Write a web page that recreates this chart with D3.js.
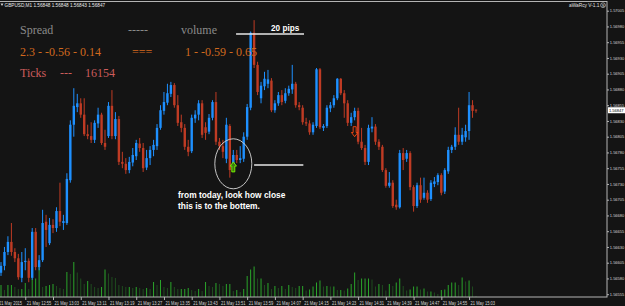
<!DOCTYPE html>
<html>
<head>
<meta charset="utf-8">
<script src="https://d3js.org/d3.v7.min.js"></script>
<style>
  body { margin: 0; background: #141414; }
  svg { display: block; }
</style>
</head>
<body>
<div id="chart"></div>
<script>
// GBPUSD M1, 21 May 2015, one candle per minute starting 12:48
var opens = [1.56589,1.56600,1.56622,1.56638,1.56622,1.56612,1.56581,1.56606,1.56608,1.56581,
  1.56654,1.56598,1.56609,1.56670,1.56636,1.56665,1.56660,1.56687,1.56668,1.56668,
  1.56736,1.56824,1.56852,1.56858,1.56840,1.56809,1.56806,1.56800,1.56826,1.56840,
  1.56795,1.56806,1.56854,1.56806,1.56833,1.56765,1.56762,1.56752,1.56764,1.56774,
  1.56794,1.56787,1.56756,1.56771,1.56784,1.56790,1.56819,1.56846,1.56859,1.56873,
  1.56887,1.56855,1.56828,1.56819,1.56789,1.56782,1.56834,1.56840,1.56858,1.56820,
  1.56813,1.56835,1.56860,1.56797,1.56790,1.56770,1.56822,1.56756,1.56776,1.56768,
  1.56770,1.56805,1.56851,1.56970,1.56919,1.56866,1.56885,1.56889,1.56894,1.56847,
  1.56858,1.56871,1.56862,1.56874,1.56880,1.56889,1.56855,1.56851,1.56828,1.56826,
  1.56812,1.56822,1.56912,1.56819,1.56822,1.56850,1.56855,1.56866,1.56897,1.56874,
  1.56858,1.56827,1.56836,1.56846,1.56797,1.56787,1.56765,1.56818,1.56821,1.56797,
  1.56789,1.56752,1.56727,1.56732,1.56697,1.56693,1.56779,1.56770,1.56779,1.56725,
  1.56695,1.56728,1.56708,1.56716,1.56706,1.56730,1.56733,1.56744,1.56718,1.56750,
  1.56784,1.56789,1.56808,1.56797,1.56804,1.56814,1.56855,1.56848];
var highs = [1.56606,1.56630,1.56647,1.56668,1.56628,1.56619,1.56622,1.56628,1.56612,1.56660,
  1.56660,1.56617,1.56689,1.56681,1.56676,1.56674,1.56693,1.56732,1.56681,1.56747,
  1.56831,1.56882,1.56873,1.56866,1.56866,1.56824,1.56828,1.56831,1.56851,1.56843,
  1.56816,1.56860,1.56879,1.56844,1.56838,1.56781,1.56771,1.56773,1.56787,1.56800,
  1.56803,1.56795,1.56784,1.56790,1.56800,1.56825,1.56855,1.56876,1.56889,1.56892,
  1.56890,1.56871,1.56840,1.56825,1.56800,1.56840,1.56847,1.56863,1.56863,1.56828,
  1.56841,1.56863,1.56876,1.56803,1.56800,1.56835,1.56825,1.56784,1.56784,1.56790,
  1.56812,1.56857,1.56972,1.56990,1.56924,1.56892,1.56908,1.56911,1.56898,1.56863,
  1.56876,1.56879,1.56882,1.56886,1.56919,1.56892,1.56860,1.56855,1.56835,1.56831,
  1.56828,1.56914,1.56914,1.56825,1.56855,1.56860,1.56871,1.56898,1.56898,1.56879,
  1.56863,1.56843,1.56851,1.56851,1.56819,1.56792,1.56824,1.56836,1.56825,1.56801,
  1.56792,1.56755,1.56749,1.56736,1.56705,1.56784,1.56787,1.56784,1.56782,1.56728,
  1.56732,1.56740,1.56740,1.56720,1.56736,1.56741,1.56747,1.56747,1.56755,1.56789,
  1.56792,1.56820,1.56851,1.56819,1.56824,1.56876,1.56863,1.56848];
var lows = [1.56584,1.56593,1.56617,1.56616,1.56606,1.56578,1.56574,1.56593,1.56574,1.56578,
  1.56593,1.56593,1.56606,1.56630,1.56633,1.56652,1.56654,1.56663,1.56657,1.56665,
  1.56732,1.56805,1.56844,1.56835,1.56806,1.56801,1.56795,1.56795,1.56819,1.56792,
  1.56784,1.56803,1.56801,1.56801,1.56760,1.56755,1.56746,1.56747,1.56758,1.56768,
  1.56781,1.56749,1.56752,1.56760,1.56774,1.56784,1.56816,1.56840,1.56855,1.56868,
  1.56851,1.56822,1.56812,1.56784,1.56774,1.56779,1.56827,1.56831,1.56803,1.56800,
  1.56809,1.56831,1.56792,1.56784,1.56771,1.56763,1.56740,1.56750,1.56763,1.56763,
  1.56765,1.56800,1.56847,1.56914,1.56871,1.56858,1.56879,1.56882,1.56844,1.56843,
  1.56854,1.56855,1.56858,1.56870,1.56873,1.56851,1.56847,1.56824,1.56822,1.56808,
  1.56808,1.56819,1.56817,1.56814,1.56819,1.56844,1.56851,1.56863,1.56871,1.56835,
  1.56822,1.56822,1.56831,1.56793,1.56784,1.56760,1.56760,1.56812,1.56792,1.56784,
  1.56749,1.56724,1.56724,1.56692,1.56689,1.56691,1.56752,1.56765,1.56720,1.56686,
  1.56692,1.56700,1.56705,1.56700,1.56703,1.56725,1.56728,1.56712,1.56714,1.56746,
  1.56779,1.56784,1.56792,1.56792,1.56797,1.56800,1.56835,1.56843];
var closes = [1.56600,1.56622,1.56638,1.56622,1.56612,1.56582,1.56606,1.56608,1.56581,1.56654,
  1.56598,1.56609,1.56668,1.56657,1.56665,1.56660,1.56687,1.56670,1.56671,1.56738,
  1.56824,1.56854,1.56858,1.56840,1.56809,1.56806,1.56800,1.56827,1.56840,1.56795,
  1.56789,1.56854,1.56806,1.56833,1.56765,1.56762,1.56752,1.56765,1.56776,1.56795,
  1.56787,1.56755,1.56771,1.56784,1.56792,1.56819,1.56847,1.56860,1.56874,1.56887,
  1.56855,1.56827,1.56819,1.56789,1.56781,1.56835,1.56840,1.56858,1.56808,1.56811,
  1.56835,1.56860,1.56797,1.56790,1.56781,1.56824,1.56752,1.56776,1.56768,1.56771,
  1.56805,1.56852,1.56970,1.56919,1.56876,1.56886,1.56897,1.56896,1.56847,1.56858,
  1.56871,1.56860,1.56874,1.56881,1.56889,1.56855,1.56852,1.56828,1.56826,1.56812,
  1.56824,1.56912,1.56820,1.56822,1.56851,1.56855,1.56866,1.56897,1.56874,1.56858,
  1.56827,1.56836,1.56846,1.56797,1.56787,1.56765,1.56819,1.56821,1.56797,1.56789,
  1.56752,1.56727,1.56732,1.56695,1.56693,1.56779,1.56768,1.56779,1.56725,1.56695,
  1.56728,1.56705,1.56716,1.56705,1.56732,1.56734,1.56744,1.56716,1.56752,1.56784,
  1.56789,1.56808,1.56797,1.56808,1.56814,1.56855,1.56846,1.56847];
var volumes = [24,14,24,24,20,16,16,28,16,37, 37,60,20,22,24,26,22,18,16,50,
  46,70,49,37,26,32,26,20,18,20, 55,47,40,38,24,22,20,20,18,20,
  18,16,18,16,30,24,34,20,18,30, 20,16,16,16,18,14,12,16,12,30,
  22,20,28,26,22,26,26,12,14,10, 16,42,55,61,37,37,24,28,16,22,
  18,22,16,24,20,18,22,22,13,15, 21,29,33,21,22,21,21,14,14,13,
  17,26,49,34,37,37,37,35,21,26, 24,13,26,22,29,37,22,13,15,21,
  21,15,17,11,11,9,6,14,15,24, 29,29,24,39,31,33,21,2];

var priceTicks = [1.57005,1.56980,1.56955,1.56930,1.56905,1.56880,1.56855,1.56830,1.56805,
  1.56780,1.56755,1.56730,1.56705,1.56680,1.56655,1.56630,1.56605,1.56580,1.56555];
var timeTicks = ["12:47","12:55","13:03","13:11","13:19","13:27","13:35","13:43","13:51",
  "13:59","14:07","14:15","14:23","14:31","14:39","14:47","14:55","15:03"];
var timeLabels = ["21 May 2015","21 May 12:55","21 May 13:03","21 May 13:11","21 May 13:19",
  "21 May 13:27","21 May 13:35","21 May 13:43","21 May 13:51","21 May 13:59","21 May 14:07",
  "21 May 14:15","21 May 14:23","21 May 14:31","21 May 14:39","21 May 14:47","21 May 14:55","21 May 15:03"];

var width = 625, height = 306;
var plotRight = 607, plotBottom = 297;
var upColor = "#1e90ff", downColor = "#bf3b24";
var smallFont = "4.6px 'Liberation Sans', Arial, sans-serif";
var priceFont = "4px 'Liberation Sans', Arial, sans-serif";

var svg = d3.select("#chart").append("svg")
    .attr("width", width)
    .attr("height", height);

svg.append("rect").attr("width", width).attr("height", height).attr("fill", "#141414");

var parseTime = d3.timeParse("%Y-%m-%d %H:%M");
var startTime = parseTime("2015-05-21 12:48");
function atBar(i) { return new Date(+startTime + i * 60000); }

var x = d3.scaleTime()
    .domain([startTime, atBar(opens.length - 1)])
    .range([1, 476]);
var y = d3.scaleLinear()
    .domain([1.56555, 1.57005])
    .range([294.2, 10.7]);
var yVol = d3.scaleLinear()
    .domain([0, 70])
    .range([plotBottom, 262]);

var bars = opens.map(function (o, i) {
    return {t: atBar(i), o: o, h: highs[i], l: lows[i], c: closes[i], v: volumes[i],
            vUp: i === 0 || volumes[i] >= volumes[i - 1]};
});

// volumes
svg.append("g").selectAll("line")
    .data(bars)
    .enter().append("line")
        .attr("x1", function (d) { return x(d.t); })
        .attr("x2", function (d) { return x(d.t); })
        .attr("y1", yVol(0))
        .attr("y2", function (d) { return yVol(d.v); })
        .attr("stroke", function (d) { return d.vUp ? "#2aa52a" : "#1f4d1f"; })
        .attr("stroke-width", 1);

// candles
var candle = svg.append("g").selectAll("g")
    .data(bars)
    .enter().append("g");
candle.append("line")
    .attr("x1", function (d) { return x(d.t); })
    .attr("x2", function (d) { return x(d.t); })
    .attr("y1", function (d) { return y(d.h); })
    .attr("y2", function (d) { return y(d.l); })
    .attr("stroke", function (d) { return d.c >= d.o ? upColor : downColor; })
    .attr("stroke-width", 1);
candle.append("rect")
    .attr("x", function (d) { return x(d.t) - 1.2; })
    .attr("width", 2.4)
    .attr("y", function (d) { return y(Math.max(d.o, d.c)); })
    .attr("height", function (d) { return Math.max(1, Math.abs(y(d.o) - y(d.c))); })
    .attr("fill", function (d) { return d.c >= d.o ? upColor : downColor; });

// frame
svg.append("rect")
    .attr("x", -1).attr("y", 1.5)
    .attr("width", plotRight + 1).attr("height", plotBottom - 1.5)
    .attr("fill", "none").attr("stroke", "#b4b4b4").attr("stroke-width", 1);

// price axis
var yAxis = svg.append("g")
    .attr("transform", "translate(" + plotRight + ",0)")
    .call(d3.axisRight(y).tickValues(priceTicks).tickFormat(d3.format(".5f")).tickSize(2).tickPadding(0.8));
yAxis.select(".domain").remove();
yAxis.selectAll("line").attr("stroke", "#b4b4b4");
yAxis.selectAll("text")
    .attr("fill", "#d4d4d4")
    .style("font", priceFont);

// current price tag
var last = bars[bars.length - 1];
svg.append("rect")
    .attr("x", plotRight + 1).attr("y", y(last.c) - 3)
    .attr("width", 17).attr("height", 6)
    .attr("fill", "#ffffff");
svg.append("text")
    .attr("x", plotRight + 2).attr("y", y(last.c) + 1.4)
    .attr("fill", "#000")
    .style("font", priceFont)
    .text(d3.format(".5f")(last.c));

// time axis
var xAxis = svg.append("g")
    .attr("transform", "translate(0," + plotBottom + ")")
    .call(d3.axisBottom(x)
        .tickValues(timeTicks.map(function (t) { return parseTime("2015-05-21 " + t); }))
        .tickFormat(function (d, i) { return timeLabels[i]; })
        .tickSize(3).tickPadding(1.5));
xAxis.select(".domain").remove();
xAxis.selectAll("line").attr("stroke", "#b4b4b4");
xAxis.selectAll("text")
    .attr("text-anchor", "start").attr("x", 1)
    .attr("fill", "#d4d4d4")
    .attr("textLength", function (d, i) { return i === 0 ? 23 : 24.5; })
    .attr("lengthAdjust", "spacingAndGlyphs")
    .style("font", smallFont);

// header texts
svg.append("path")
    .attr("d", "M0.5,3.5 L3.5,3.5 L2,6 Z")
    .attr("fill", "#d0d0d0");
svg.append("text")
    .attr("x", 4.5).attr("y", 6.6)
    .attr("fill", "#e8e8e8")
    .style("font", "4.7px 'Liberation Sans', Arial, sans-serif")
    .text("GBPUSD,M1  1.56848 1.56848 1.56843 1.56847");
svg.append("text")
    .attr("x", 599.5).attr("y", 6.8)
    .attr("text-anchor", "end")
    .attr("fill", "#e0e0e0")
    .style("font", "4.8px 'Liberation Sans', Arial, sans-serif")
    .text("aWaRcy V-1.1");
svg.append("circle").attr("cx", 603).attr("cy", 5.2).attr("r", 2.4)
    .attr("fill", "none").attr("stroke", "#e0e0e0").attr("stroke-width", 0.6);
svg.append("text")
    .attr("x", 603).attr("y", 6.8).attr("text-anchor", "middle")
    .attr("fill", "#e0e0e0")
    .style("font", "4px 'Liberation Sans', Arial, sans-serif")
    .text("S");

// info panel (serif labels)
var serif = "12px 'Liberation Serif', 'Times New Roman', serif";
function info(tx, ty, txt, col) {
    svg.append("text").attr("x", tx).attr("y", ty).attr("fill", col)
        .style("font", serif).text(txt);
}
info(20, 34, "Spread", "#8a8a8a");
info(128, 34, "-----", "#8a8a8a");
info(181, 34, "volume", "#8a8a8a");
info(20, 55.5, "2.3 - -0.56 - 0.14", "#d2691e");
info(132, 55.5, "===", "#d2691e");
info(185, 55.5, "1 - -0.59 - 0.65", "#d2691e");
info(20, 76.5, "Ticks", "#cd5c5c");
info(60, 76.5, "---", "#cd5c5c");
info(85, 76.5, "16154", "#cd5c5c");

// 20 pips ruler
var pipLines = [
    {from: 67.8, to: 87.4, price: 1.56968},
    {from: 73.0, to: 87.2, price: 1.56760}
];
svg.append("g").selectAll("line")
    .data(pipLines)
    .enter().append("line")
        .attr("x1", function (d) { return x(atBar(d.from)); })
        .attr("x2", function (d) { return x(atBar(d.to)); })
        .attr("y1", function (d) { return y(d.price); })
        .attr("y2", function (d) { return y(d.price); })
        .attr("stroke", "#e6e6e6")
        .attr("stroke-width", 1.4);
svg.append("text")
    .attr("x", 271).attr("y", 31)
    .attr("fill", "#ffffff")
    .style("font", "bold 8.2px 'Liberation Sans', Arial, sans-serif")
    .text("20 pips");

// circle + arrows marking the low
svg.append("ellipse")
    .attr("cx", x(atBar(67))).attr("cy", y(1.56762))
    .attr("rx", 18.5).attr("ry", 25)
    .attr("fill", "none").attr("stroke", "#d8d8d8").attr("stroke-width", 0.9);

var upArrow = "M0,0 L-3.2,4.2 L-1.5,4.2 L-1.5,10 L1.5,10 L1.5,4.2 L3.2,4.2 Z";
svg.append("path")
    .attr("d", upArrow)
    .attr("transform", "translate(" + x(atBar(67)) + "," + y(1.56765) + ")")
    .attr("fill", "#3d7a10").attr("stroke", "#7cfc00").attr("stroke-width", 0.9);
svg.append("path")
    .attr("d", upArrow)
    .attr("transform", "translate(" + x(atBar(102)) + "," + y(1.56805) + ") scale(1,-1)")
    .attr("fill", "none").attr("stroke", "#ff4a12").attr("stroke-width", 0.9);

var note = svg.append("text")
    .attr("fill", "#ffffff")
    .style("font", "bold 8.4px 'Liberation Sans', Arial, sans-serif");
note.append("tspan").attr("x", 178).attr("y", 197.5).text("from today, look how close");
note.append("tspan").attr("x", 178).attr("y", 209).text("this is to the bottem.");
</script>
</body>
</html>
